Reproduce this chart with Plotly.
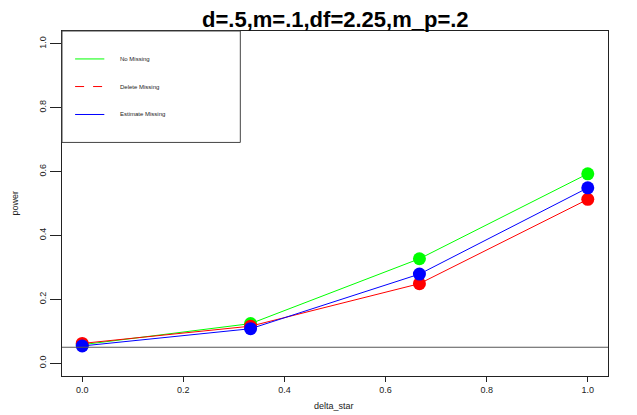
import plotly.graph_objects as go

# power curves
delta_star = [0.0, 0.333, 0.667, 1.0]
no_missing = [0.058, 0.124, 0.327, 0.593]
delete_missing = [0.062, 0.116, 0.249, 0.513]
estimate_missing = [0.054, 0.108, 0.279, 0.549]

series_names = ["No Missing", "Delete Missing", "Estimate Missing"]
series_colors = ["#00ff00", "#ff0000", "#0000ff"]
legend_dash = ["solid", "dash", "solid"]

tick_vals = [0.0, 0.2, 0.4, 0.6, 0.8, 1.0]
alpha_level = 0.05

TITLE = "d=.5,m=.1,df=2.25,m_p=.2"
FONT = "Liberation Sans, Arial, Helvetica, sans-serif"

# the page puts the figure 8px in from the corner, so size it to fit
W, H = 629, 407

fig = go.Figure()

for name, values, color in zip(series_names,
                               [no_missing, delete_missing, estimate_missing],
                               series_colors):
    fig.add_trace(go.Scatter(
        x=delta_star,
        y=values,
        mode="lines+markers",
        name=name,
        line=dict(color=color, width=1),
        marker=dict(color=color, size=13, symbol="circle"),
        showlegend=False,
    ))

# horizontal reference line at the nominal level
fig.add_shape(type="line", xref="paper", x0=0, x1=1, yref="y",
              y0=alpha_level, y1=alpha_level,
              line=dict(color="#555555", width=1))

# legend drawn by hand, R style box in the top left corner
fig.add_shape(type="rect", xref="paper", yref="paper",
              x0=0, x1=0.3266, y0=0.677, y1=1,
              line=dict(color="#444444", width=1))
legend_y = [0.919, 0.839, 0.758]
for name, color, dash, ly in zip(series_names, series_colors,
                                 legend_dash, legend_y):
    fig.add_shape(type="line", xref="paper", yref="paper",
                  x0=0.024, x1=0.0775, y0=ly, y1=ly,
                  line=dict(color=color, width=1, dash=dash))
    fig.add_annotation(text=name, xref="paper", yref="paper",
                       x=0.103, y=ly, xanchor="left", yanchor="middle",
                       showarrow=False, font=dict(size=6, color="#222222"))

# axis titles
fig.add_annotation(text="power", xref="paper", yref="paper", x=0, y=0.5,
                   xshift=-48, textangle=-90, showarrow=False,
                   xanchor="center", yanchor="middle",
                   font=dict(size=9, color="#222222"))
fig.add_annotation(text="delta_star", xref="paper", yref="paper",
                   x=0.498, y=0, yshift=-30, showarrow=False,
                   xanchor="center", yanchor="middle",
                   font=dict(size=9, color="#222222"))

# title as an annotation so its baseline can be placed just above the box
fig.add_annotation(text=f"<b>{TITLE}</b>", xref="paper", yref="paper",
                   x=0.5, y=1, yshift=-3, xanchor="center", yanchor="bottom",
                   showarrow=False,
                   font=dict(size=22, color="black", family=FONT))

axis_common = dict(
    showgrid=False,
    zeroline=False,
    showline=True,
    mirror=True,
    linecolor="#222222",
    linewidth=1,
    ticks="outside",
    tickcolor="#222222",
    tickvals=tick_vals,
    tickformat=".1f",
    tickfont=dict(size=9, color="#222222"),
)

fig.update_xaxes(range=[-0.04, 1.04], ticklen=5, **axis_common)
fig.update_yaxes(range=[-0.04, 1.04], ticklen=11, tickangle=-90,
                 **axis_common)

fig.update_layout(
    width=W,
    height=H,
    margin=dict(l=54, r=29, t=23, b=39),
    paper_bgcolor="white",
    plot_bgcolor="white",
    font=dict(family=FONT, color="#222222"),
)

fig.write_html("out.html")
